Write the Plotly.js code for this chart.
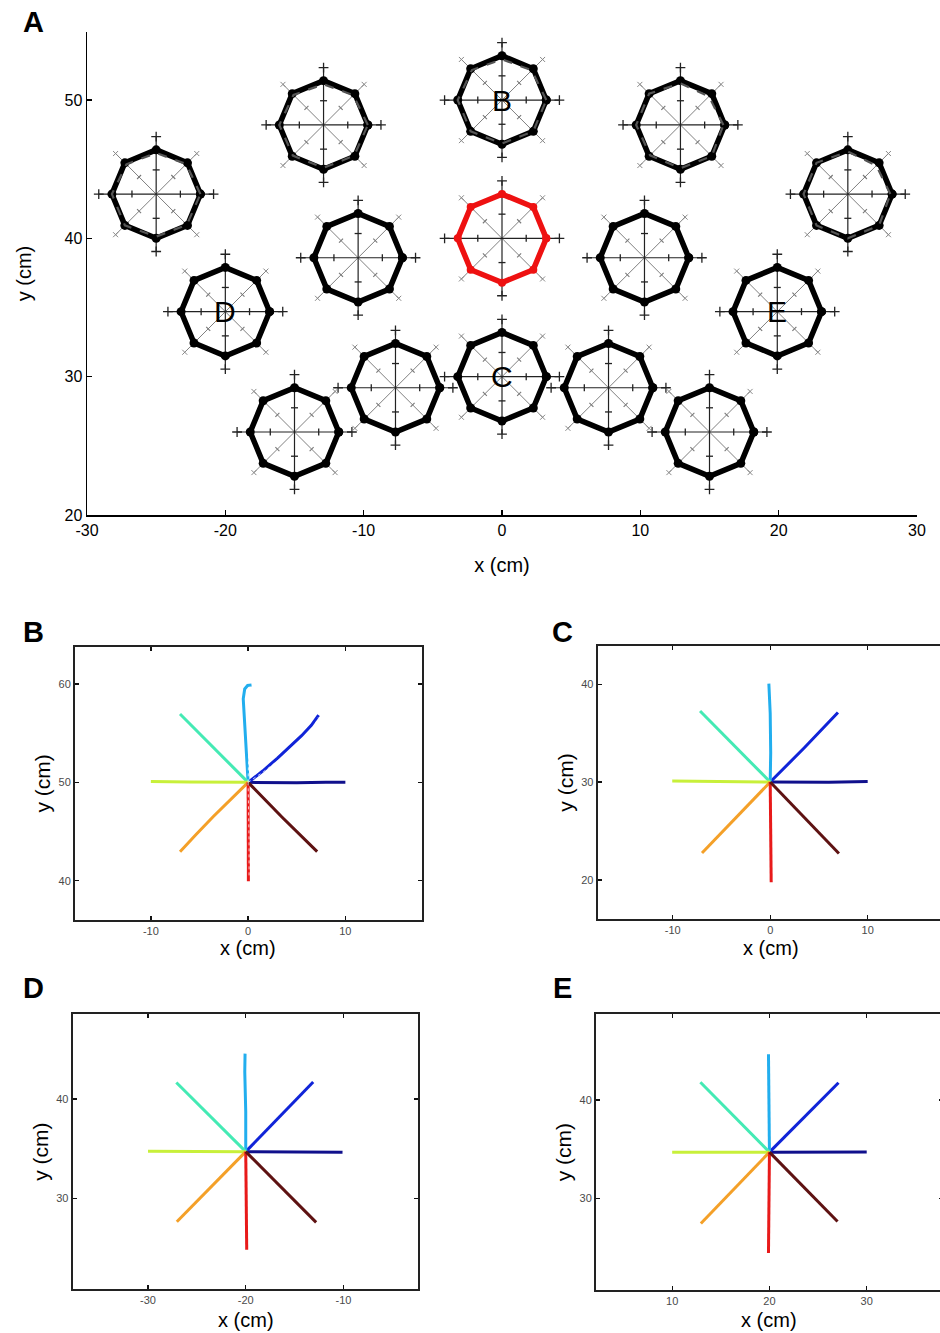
<!DOCTYPE html>
<html>
<head>
<meta charset="utf-8">
<script src="https://cdn.plot.ly/plotly-3.0.1.min.js"></script>
<style>
html,body{margin:0;padding:0;overflow:hidden;background:#fff;width:940px;height:1333px;}
#chart{width:960px;height:1333px;}
</style>
</head>
<body>
<div id="chart"></div>
<script>
// ---------------- DATA ----------------
// Panel A: workspace locations (glyph centres, cm)
const glyphX = [0, -12.9, 12.9, -25, 25, -10.4, 0, 10.3, -20, 19.9, -7.7, 0, 7.7, -15, 15];
const glyphY = [50, 48.2, 48.2, 43.2, 43.2, 38.6, 40, 38.6, 34.7, 34.7, 29.2, 30, 29.2, 26, 26];
const trainedIndex = 6;              // red glyph (training location)
const targetAngles = [0, 45, 90, 135, 180, 225, 270, 315];
// relative reach of the dashed (second) octagon for the upper-row glyphs
const dashedGlyphs = [0, 1, 2, 3, 4];
const dashedReach = [
  [1, 0.95, 0.92, 0.96, 1, 1, 0.98, 1],
  [1, 0.95, 0.92, 0.96, 1, 0.98, 0.97, 0.98],
  [0.97, 0.91, 0.94, 1, 1, 0.97, 0.98, 1],
  [1, 0.96, 0.93, 0.95, 1, 1, 0.96, 0.98],
  [0.96, 0.91, 0.96, 1, 1, 1, 1, 1]
];
const glyphLetters = ['B', 'C', 'D', 'E'];
const glyphLetterIdx = [0, 11, 8, 9];

// Panels B-E: start positions and hand trajectories (offsets in cm)
const panelCx = [0, 0, -20, 20];
const panelCy = [50, 30, 34.7, 34.7];
const trajColors = ['#10108c', '#1024d8', '#22aeee', '#44eab4', '#c8f03a', '#f4a028', '#e81a1a', '#5e1212'];

const B_dx = [[0,2,5,8,10],[0,1.5,3,4.3,5.5,6.5,7.1,7.25],[0,-0.15,-0.3,-0.45,-0.5,-0.35,-0.05,0.35],[0,-3.5,-7.0],[0,-3,-6,-10],[0,-1.8,-3.6,-5.4,-7.0],[0,0.02,0.05,0.05,0.03],[0,3.5,7.1]];
const B_dy = [[0,-0.05,-0.05,0,0],[0,1.15,2.45,3.6,4.75,5.8,6.55,6.85],[0,2.5,5,7,8.5,9.5,9.85,9.9],[0,3.45,6.95],[0,0,0.03,0.1],[0,-1.7,-3.5,-5.35,-7.05],[0,-3,-6,-9,-10.05],[0,-3.55,-7.05]];
const C_dx = [[0,3,6,10],[0,3.5,6.95],[0,0.05,0,-0.14],[0,-3.6,-7.2],[0,-5,-10.05],[0,-3.5,-7.0],[0,0.05,0.1],[0,3.5,7.05]];
const C_dy = [[0,-0.05,-0.03,0.05],[0,3.5,7.1],[0,3,7,10.05],[0,3.6,7.25],[0,0.05,0.1],[0,-3.6,-7.25],[0,-5,-10.25],[0,-3.6,-7.3]];
const D_dx = [[0,5,9.9],[0,3.45,6.9],[0,0,-0.1,-0.07],[0,-3.55,-7.1],[0,-5,-10.0],[0,-3.5,-7.05],[0,0.05,0.1],[0,3.6,7.2]];
const D_dy = [[0,-0.02,-0.05],[0,3.45,7.0],[0,4,8,9.85],[0,3.5,6.95],[0,0.02,0.05],[0,-3.5,-7.05],[0,-5,-9.85],[0,-3.55,-7.1]];
const E_dx = [[0,5,10],[0,3.5,7.1],[0,-0.05,-0.1],[0,-3.55,-7.1],[0,-5,-10],[0,-3.5,-7.05],[0,-0.05,-0.1],[0,3.5,7.0]];
const E_dy = [[0,-0.02,0.02],[0,3.5,7.05],[0,5,9.95],[0,3.55,7.1],[0,0,0],[0,-3.6,-7.25],[0,-5,-10.25],[0,-3.5,-7.05]];
// dashed model trajectories (panel B)
const Bdash_dir = [1, 2, 6];
const Bdash_dx = [[0,1.6,3.2,4.6,5.8,6.8,7.2],[0,0.05,0.1,0.15,0.2],[0,0.08,0.1,0.1]];
const Bdash_dy = [[0,1.1,2.3,3.4,4.55,5.7,6.6],[0,3,6,8.5,9.8],[0,-3,-6,-9.5]];

const xTicksA = [-30, -20, -10, 0, 10, 20, 30];
const yTicksA = [20, 30, 40, 50];
const xTicksLow = [[-10, 0, 10], [-10, 0, 10], [-30, -20, -10], [10, 20, 30]];
const yTicksLow = [[40, 50, 60], [20, 30, 40], [30, 40], [30, 40]];

// ---------------- STYLE / GEOMETRY ----------------
const W = 960, H = 1333;
const FONT = 'Arial, "Liberation Sans", Helvetica, sans-serif';
const vertexR = 3.2, spokeR = 4.15, tickR = 1.75;
function xd(a, b) { return [a / W, b / W]; }
function yd(top, bot) { return [1 - bot / H, 1 - top / H]; }
const rad = a => a * Math.PI / 180;
const lbl = v => String(v); // hyphen-minus labels as in the original

const traces = [];

// ---- Panel A glyphs ----
const cardX = [], cardY = [], diagX = [], diagY = [];
const midX = [], midY = [], midSym = [], midDX = [], midDY = [], midDSym = [];
const endX = [], endY = [], endSym = [];
const endDX = [], endDY = [], endDSym = [];
const polyX = [], polyY = [], redX = [], redY = [];
const dashX = [], dashY = [];
glyphX.forEach((cx, g) => {
  const cy = glyphY[g];
  targetAngles.forEach(a => {
    const c = Math.cos(rad(a)), s = Math.sin(rad(a));
    const card = (a % 90 === 0);
    const X = card ? cardX : diagX, Y = card ? cardY : diagY;
    X.push(cx, cx + spokeR * c, null); Y.push(cy, cy + spokeR * s, null);
    if (card) {
      midX.push(cx + tickR * c); midY.push(cy + tickR * s); midSym.push(a % 180 === 0 ? 'line-ns' : 'line-ew');
      endX.push(cx + spokeR * c); endY.push(cy + spokeR * s); endSym.push('cross-thin');
    } else {
      midDX.push(cx + tickR * c); midDY.push(cy + tickR * s); midDSym.push((a === 45 || a === 225) ? 'line-nw' : 'line-ne');
      endDX.push(cx + spokeR * c); endDY.push(cy + spokeR * s); endDSym.push('x-thin');
    }
  });
  const PX = g === trainedIndex ? redX : polyX, PY = g === trainedIndex ? redY : polyY;
  for (let k = 0; k <= 8; k++) {
    const a = targetAngles[k % 8];
    PX.push(cx + vertexR * Math.cos(rad(a))); PY.push(cy + vertexR * Math.sin(rad(a)));
  }
  PX.push(null); PY.push(null);
});
dashedGlyphs.forEach((g, i) => {
  for (let k = 0; k <= 8; k++) {
    const a = targetAngles[k % 8], r = vertexR * dashedReach[i][k % 8];
    dashX.push(glyphX[g] + r * Math.cos(rad(a))); dashY.push(glyphY[g] + r * Math.sin(rad(a)));
  }
  dashX.push(null); dashY.push(null);
});

traces.push({x: diagX, y: diagY, mode: 'lines', line: {color: '#808080', width: 1}, xaxis: 'x', yaxis: 'y', hoverinfo: 'skip'});
traces.push({x: cardX, y: cardY, mode: 'lines', line: {color: '#222', width: 1.2}, xaxis: 'x', yaxis: 'y', hoverinfo: 'skip'});
traces.push({x: midX, y: midY, mode: 'markers', marker: {symbol: midSym, size: 5, color: '#222', line: {color: '#222', width: 1.3}}, xaxis: 'x', yaxis: 'y', hoverinfo: 'skip'});
traces.push({x: midDX, y: midDY, mode: 'markers', marker: {symbol: midDSym, size: 4, color: '#777', line: {color: '#777', width: 1.1}}, xaxis: 'x', yaxis: 'y', hoverinfo: 'skip'});
traces.push({x: endX, y: endY, mode: 'markers', marker: {symbol: endSym, size: 7, color: '#222', line: {color: '#222', width: 1.3}}, xaxis: 'x', yaxis: 'y', hoverinfo: 'skip'});
traces.push({x: endDX, y: endDY, mode: 'markers', marker: {symbol: endDSym, size: 5, color: '#888', line: {color: '#888', width: 1}}, xaxis: 'x', yaxis: 'y', hoverinfo: 'skip'});
traces.push({x: polyX, y: polyY, mode: 'lines+markers', line: {color: '#000', width: 5.5}, marker: {color: '#000', size: 9}, xaxis: 'x', yaxis: 'y', hoverinfo: 'skip'});
traces.push({x: dashX, y: dashY, mode: 'lines', line: {color: '#555', width: 2.2, dash: 'dash'}, xaxis: 'x', yaxis: 'y', hoverinfo: 'skip'});
traces.push({x: redX, y: redY, mode: 'lines+markers', line: {color: '#ee1111', width: 5.5}, marker: {color: '#ee1111', size: 8}, xaxis: 'x', yaxis: 'y', hoverinfo: 'skip'});

// ---- Panels B-E trajectories ----
const DX = [B_dx, C_dx, D_dx, E_dx], DY = [B_dy, C_dy, D_dy, E_dy];
for (let p = 0; p < 4; p++) {
  const ax = p + 2;
  for (let d = 0; d < 8; d++) {
    traces.push({
      x: DX[p][d].map(v => panelCx[p] + v), y: DY[p][d].map(v => panelCy[p] + v),
      mode: 'lines', line: {color: trajColors[d], width: 3}, xaxis: 'x' + ax, yaxis: 'y' + ax, hoverinfo: 'skip'
    });
  }
}
Bdash_dir.forEach((d, i) => {
  traces.push({
    x: Bdash_dx[i].map(v => panelCx[0] + v), y: Bdash_dy[i].map(v => panelCy[0] + v),
    mode: 'lines', line: {color: 'rgba(255,255,255,0.75)', width: 1, dash: 'dot'}, xaxis: 'x2', yaxis: 'y2', hoverinfo: 'skip'
  });
});

// ---------------- LAYOUT ----------------
const layout = {
  width: W, height: H, margin: {l: 0, r: 0, t: 0, b: 0},
  paper_bgcolor: '#fff', plot_bgcolor: 'rgba(0,0,0,0)', showlegend: false,
  font: {family: FONT, color: '#000'},
  xaxis: {domain: xd(87, 917), range: [-30, 30], tickvals: xTicksA, ticktext: xTicksA.map(lbl), ticks: 'inside', ticklen: 5, tickwidth: 1.5, tickcolor: '#000',
    showline: true, linecolor: '#000', linewidth: 1.5, showgrid: false, zeroline: false, tickfont: {size: 16, family: FONT},
    title: {text: 'x (cm)', font: {size: 20, family: FONT}, standoff: 20}},
  yaxis: {domain: yd(32, 515), range: [20, 54.92], tickvals: yTicksA, ticktext: yTicksA.map(lbl), ticks: 'inside', ticklen: 5, tickwidth: 1.5, tickcolor: '#000',
    showline: true, linecolor: '#000', linewidth: 1.5, showgrid: false, zeroline: false, tickfont: {size: 16, family: FONT},
    title: {text: 'y (cm)', font: {size: 20, family: FONT}, standoff: 27}},
  annotations: []
};
const lowX = [xd(75, 421.7), xd(597.7, 943.7), xd(72.7, 418.3), xd(596, 942.6)];
const lowY = [yd(646.7, 920), yd(646, 919), yd(1014.3, 1289), yd(1014.3, 1290)];
const lowXR = [[-17.8, 17.85], [-17.7, 17.8], [-37.7, -2.35], [2.17, 37.8]];
const lowYR = [[36, 63.8], [16, 43.9], [20.9, 48.5], [20.7, 48.7]];
const xTitleCx = [248.3, 770.7, 245.7, 769.3], xTitleCy = [948, 948, 1320, 1320];
for (let p = 0; p < 4; p++) {
  const ax = p + 2;
  const common = {ticks: 'inside', ticklen: 4, tickwidth: 1.3, tickcolor: '#111', showline: true, mirror: 'ticks',
    linecolor: '#222', linewidth: 2, showgrid: false, zeroline: false, tickfont: {size: 11, color: '#4a4a4a', family: FONT}};
  layout['xaxis' + ax] = Object.assign({}, common, {domain: lowX[p], range: lowXR[p], tickvals: xTicksLow[p], ticktext: xTicksLow[p].map(lbl), anchor: 'y' + ax});
  layout['yaxis' + ax] = Object.assign({}, common, {domain: lowY[p], range: lowYR[p], tickvals: yTicksLow[p], ticktext: yTicksLow[p].map(lbl), anchor: 'x' + ax,
    title: {text: 'y (cm)', font: {size: 21, family: FONT}, standoff: 2}});
  layout.annotations.push({x: xTitleCx[p] / W, y: 1 - xTitleCy[p] / H, xref: 'paper', yref: 'paper', text: 'x (cm)', showarrow: false,
    font: {size: 20, family: FONT, color: '#000'}, xanchor: 'center', yanchor: 'middle'});
}
layout.xaxis.anchor = 'y'; layout.yaxis.anchor = 'x';

// glyph letters in panel A
glyphLetters.forEach((t, i) => {
  const g = glyphLetterIdx[i];
  layout.annotations.push({x: glyphX[g], y: glyphY[g], xref: 'x', yref: 'y', text: t, showarrow: false,
    font: {size: 30, family: FONT, color: '#000'}, xanchor: 'center', yanchor: 'middle'});
});
// panel letters
const panelLetters = ['A', 'B', 'C', 'D', 'E'];
const panelLX = [33, 33, 562, 33, 562], panelLY = [22, 632, 632, 988, 988];
panelLetters.forEach((t, i) => {
  layout.annotations.push({x: panelLX[i] / W, y: 1 - panelLY[i] / H, xref: 'paper', yref: 'paper', text: '<b>' + t + '</b>',
    showarrow: false, font: {size: 29, family: FONT, color: '#000'}, xanchor: 'center', yanchor: 'middle'});
});

Plotly.newPlot('chart', traces, layout, {displayModeBar: false, staticPlot: true});
</script>
</body>
</html>
